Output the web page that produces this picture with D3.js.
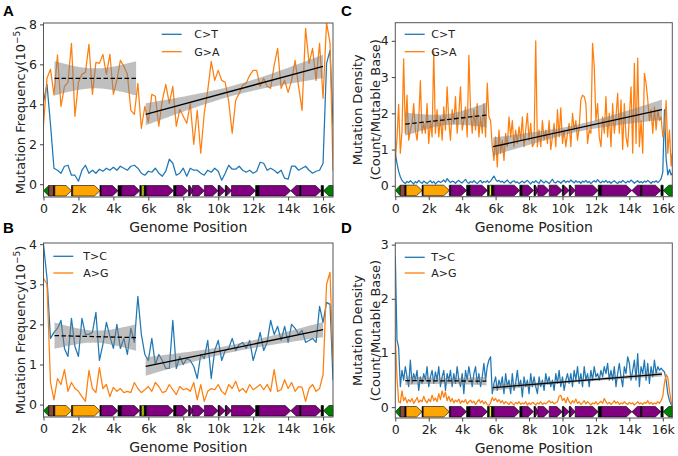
<!DOCTYPE html>
<html><head><meta charset="utf-8">
<script src="https://cdn.jsdelivr.net/npm/d3@7"></script>
<style>body{margin:0;background:#fff}svg{display:block}</style>
</head><body>
<svg id="chart" width="678" height="456"></svg>
<script>
const GENOME_LEN = 16569;
const xTickValues = [0,2000,4000,6000,8000,10000,12000,14000,16000];
const xTickLabels = ["0","2k","4k","6k","8k","10k","12k","14k","16k"];
const yTicksA = [0,2,4,6,8];
const yTicksB = [0,1,2,3,4];
const yTicksC = [0,1,2,3,4];
const yTicksD = [0,1,2,3];

// bin positions (bp)
const xsAB = d3.range(0, GENOME_LEN, 200).concat([GENOME_LEN]);
const xsCD = d3.range(0, GENOME_LEN, 100).concat([GENOME_LEN]);

const labelsAC = ["C>T","G>A"];
const labelsBD = ["T>C","A>G"];

const A_CT = [4.1,5.0,3.0,0.8,0.7,0.55,0.9,0.95,0.45,0.45,
0.15,0.7,0.95,0.55,0.7,0.55,0.75,0.65,0.8,0.7,
0.85,0.7,0.9,0.8,0.7,0.9,0.95,0.8,0.55,0.45,
0.65,0.6,0.8,0.55,0.4,0.65,1.25,1.05,0.45,0.55,
0.8,0.4,0.8,0.7,0.7,0.55,0.45,0.7,0.6,0.8,
0.65,0.2,0.55,0.95,0.75,0.75,0.9,0.7,0.6,0.7,
0.55,0.65,1.1,1.05,0.7,0.8,0.7,0.55,0.7,0.3,
0.25,0.9,0.9,0.7,0.8,0.9,0.7,0.55,0.65,0.7,
1.05,6.05,6.7,3.0];
const A_GA = [2.97,5.3,5.75,4.47,6.47,3.9,4.9,5.1,7.05,3.4,
5.1,5.5,5.6,7.0,4.5,6.1,6.05,6.5,5.5,6.5,
4.5,5.2,6.2,5.9,5.5,3.7,3.5,5.05,2.8,3.9,
3.1,4.5,4.4,2.9,4.2,5.0,4.05,4.9,2.9,3.75,
3.4,3.05,4.05,2.0,3.7,1.55,3.55,4.7,6.15,5.2,
5.7,5.2,5.1,4.15,2.55,4.2,4.55,4.95,5.05,5.45,
5.7,5.7,4.9,5.3,4.9,4.8,5.95,6.8,4.8,5.2,
4.6,5.2,6.2,4.9,3.7,7.8,6.05,6.8,5.2,7.05,
4.3,8.1,7.05,0.7];
const B_TC = [4.0,3.15,1.65,1.8,1.9,2.1,1.4,1.2,2.15,1.45,
1.2,2.15,1.75,1.75,1.8,2.3,1.1,1.5,2.05,1.7,
1.4,2.0,1.4,1.65,1.25,1.9,1.55,2.7,1.75,1.25,
1.1,1.65,1.0,1.25,1.1,0.9,0.9,2.1,0.9,1.2,
1.0,1.15,1.1,0.95,0.65,1.25,1.15,1.6,0.65,1.35,
1.6,1.1,1.35,1.4,1.65,1.35,1.5,1.55,1.4,1.6,
1.1,1.4,1.8,1.35,1.55,2.1,1.75,1.95,1.6,1.95,
1.55,2.0,1.9,1.75,1.85,1.55,1.6,1.65,1.55,2.45,
2.05,2.55,2.5,0.6];
const B_AG = [3.15,3.0,0.55,0.12,0.65,0.5,0.87,0.33,0.55,0.4,
0.33,0.2,0.08,0.85,0.4,0.3,0.92,0.4,0.5,0.2,
0.43,0.33,0.4,0.3,0.33,0.3,0.55,0.4,0.3,0.37,
0.45,0.33,0.55,0.45,0.3,0.33,0.5,0.37,0.25,0.45,
0.37,0.4,0.33,0.55,0.12,0.5,0.08,0.33,0.4,0.37,
0.5,0.33,0.25,0.5,0.4,0.58,0.33,0.4,0.3,0.5,
0.37,0.43,0.5,0.37,0.5,0.33,0.87,0.33,0.37,0.62,
0.4,0.55,0.33,0.45,0.43,0.08,0.4,0.5,0.33,0.4,
0.75,3.0,3.3,1.0];
const C_CT = [0.9,0.62,0.4,0.25,0.15,0.1,0.06,0.12,0.09,0.14,
0.1,0.05,0.12,0.08,0.15,0.1,0.07,0.13,0.1,0.06,
0.11,0.14,0.08,0.12,0.05,0.1,0.13,0.09,0.12,0.16,
0.1,0.2,0.14,0.09,0.13,0.11,0.07,0.12,0.15,0.1,
0.08,0.13,0.18,0.1,0.07,0.12,0.09,0.14,0.1,0.06,
0.11,0.15,0.08,0.12,0.1,0.14,0.09,0.13,0.2,0.27,
0.18,0.12,0.15,0.1,0.13,0.08,0.12,0.16,0.1,0.07,
0.12,0.14,0.09,0.11,0.06,0.1,0.13,0.08,0.12,0.15,
0.1,0.05,0.12,0.09,0.14,0.1,0.07,0.16,0.12,0.08,
0.13,0.1,0.06,0.12,0.18,0.1,0.08,0.13,0.11,0.07,
0.12,0.15,0.09,0.13,0.1,0.16,0.12,0.08,0.14,0.1,
0.12,0.07,0.13,0.1,0.15,0.09,0.12,0.06,0.11,0.14,
0.1,0.17,0.12,0.08,0.13,0.1,0.15,0.09,0.12,0.07,
0.11,0.14,0.1,0.06,0.12,0.09,0.15,0.11,0.08,0.13,
0.1,0.16,0.12,0.07,0.11,0.14,0.09,0.12,0.08,0.13,
0.1,0.15,0.11,0.07,0.12,0.1,0.14,0.09,0.13,0.2,
0.38,2.1,0.75,0.3,0.45,0.3,0.35];
const C_GA = [0.7,1.3,2.25,0.9,1.5,3.5,1.45,2.5,1.26,1.54,
1.72,2.27,1.54,1.26,1.8,2.9,1.45,1.72,1.45,2.27,
1.17,1.8,1.35,3.7,1.45,2.1,1.35,1.9,1.26,2.18,
1.54,2.73,1.8,1.26,2.1,1.72,2.46,1.45,2.0,2.73,
1.54,1.8,2.18,1.35,3.6,2.1,1.45,2.1,1.54,2.27,
1.35,1.9,1.45,2.27,1.35,2.83,1.9,1.8,1.08,0.7,
1.35,0.52,1.54,0.9,1.26,0.7,1.45,1.08,1.9,1.35,
1.8,1.08,1.54,1.17,1.63,1.26,1.9,1.08,1.54,2.0,
1.26,1.72,1.08,1.17,4.0,1.08,1.54,1.08,1.8,1.26,
1.54,1.17,1.8,1.0,1.35,1.72,1.08,2.1,1.35,2.15,
1.17,1.54,1.08,1.45,1.72,1.08,2.0,1.54,1.8,1.26,
1.63,2.37,2.5,2.46,2.27,1.17,1.54,1.45,3.93,3.29,
1.8,2.27,1.35,1.08,1.9,1.45,2.46,1.35,2.0,1.08,
2.27,1.45,1.9,2.55,1.45,2.37,1.0,2.27,1.35,1.08,
1.9,2.73,0.9,3.38,1.17,3.52,1.08,1.8,0.9,3.1,
2.83,2.37,1.8,2.1,1.45,2.18,1.54,2.1,1.8,1.9,
1.35,1.54,2.35,0.9,1.54,0.55,0.9];
const D_TC = [2.8,1.24,1.1,0.38,0.68,0.5,0.75,0.56,0.38,0.87,
0.44,0.62,0.5,0.68,0.31,0.56,0.44,0.62,0.5,0.75,
0.38,0.56,0.68,0.44,0.65,0.5,0.75,0.38,0.56,0.68,
0.31,0.62,0.5,0.68,0.38,0.62,0.44,0.75,0.5,0.38,
0.62,0.25,0.68,0.5,0.75,0.56,0.38,0.62,0.75,0.44,
0.62,0.38,0.56,0.81,0.5,0.75,0.87,0.93,0.25,0.44,
0.56,0.31,0.5,0.38,0.56,0.25,0.62,0.38,0.5,0.25,
0.62,0.31,0.44,0.68,0.38,0.5,0.19,0.56,0.38,0.5,
0.25,0.62,0.38,0.56,0.38,0.25,0.56,0.38,0.5,0.31,
0.62,0.44,0.56,0.38,0.5,0.31,0.62,0.44,0.68,0.38,
0.56,0.31,0.5,0.62,0.44,0.62,0.38,0.68,0.5,0.75,
0.44,0.62,0.38,0.75,0.5,0.62,0.38,0.68,0.5,0.75,
0.56,0.62,0.5,0.68,0.56,0.75,0.62,0.81,0.5,0.68,
0.5,0.75,0.38,0.62,0.81,0.56,0.38,0.75,0.62,0.93,
0.81,0.5,0.68,0.87,0.5,0.99,0.38,0.75,0.62,0.87,
0.5,0.81,0.44,0.75,0.56,0.87,0.62,0.75,0.68,0.72,
0.68,0.65,0.5,0.25,0.12,0.05,0.02];
const D_AG = [1.3,0.55,0.1,0.08,0.3,0.12,0.18,0.08,0.14,0.1,
0.16,0.07,0.12,0.18,0.09,0.13,0.1,0.2,0.12,0.08,
0.15,0.1,0.22,0.12,0.17,0.1,0.25,0.14,0.3,0.18,
0.28,0.12,0.2,0.1,0.16,0.08,0.13,0.1,0.15,0.07,
0.12,0.09,0.14,0.06,0.1,0.13,0.08,0.11,0.05,0.1,
0.14,0.08,0.12,0.06,0.1,0.05,0.03,0.08,0.18,0.12,
0.16,0.1,0.14,0.08,0.12,0.06,0.1,0.08,0.05,0.1,
0.07,0.04,0.09,0.06,0.1,0.05,0.08,0.06,0.1,0.04,
0.08,0.05,0.09,0.07,0.04,0.08,0.06,0.1,0.05,0.08,
0.06,0.09,0.12,0.08,0.1,0.06,0.08,0.1,0.2,0.22,
0.12,0.16,0.08,0.18,0.1,0.06,0.12,0.08,0.15,0.07,
0.1,0.05,0.08,0.12,0.06,0.1,0.07,0.04,0.08,0.06,
0.1,0.05,0.08,0.11,0.07,0.16,0.1,0.06,0.09,0.05,
0.08,0.12,0.07,0.1,0.05,0.08,0.06,0.1,0.07,0.05,
0.09,0.06,0.08,0.04,0.07,0.1,0.06,0.08,0.05,0.09,
0.07,0.12,0.06,0.09,0.05,0.08,0.06,0.1,0.07,0.12,
0.2,0.45,0.6,0.55,0.3,0.1,0.05];

// regression fits: start/end bp, start/end value, CI half-width at ends and middle
const fitsA = [{x0:630,x1:5300,y0:5.3,y1:5.3,e0:0.86,e1:0.86,mid:0.5,dashed:true},
               {x0:5850,x1:16000,y0:3.5,y1:5.9,e0:0.55,e1:0.58,mid:0.25,dashed:false}];
const fitsB = [{x0:630,x1:5300,y0:1.72,y1:1.67,e0:0.33,e1:0.33,mid:0.15,dashed:true},
               {x0:5850,x1:16000,y0:0.95,y1:1.87,e0:0.23,e1:0.19,mid:0.09,dashed:false}];
const fitsC = [{x0:600,x1:5450,y0:1.7,y1:1.95,e0:0.32,e1:0.34,mid:0.15,dashed:true},
               {x0:5850,x1:15950,y0:1.08,y1:2.1,e0:0.25,e1:0.28,mid:0.1,dashed:false}];
const fitsD = [{x0:600,x1:5450,y0:0.49,y1:0.48,e0:0.08,e1:0.08,mid:0.055,dashed:true},
               {x0:5850,x1:15950,y0:0.36,y1:0.61,e0:0.055,e1:0.045,mid:0.025,dashed:false}];

// mitochondrial genome features
const geneStart  = [0,300,577,648,1602,1671,3230,3307,4263,4470,5512,5640,5761,5904,7446,7586,8295,8366,8527,9207,9991,10059,10405,10470,10760,12138,12337,14149,14674,14747,15888,16024];
const geneEnd    = [300,576,647,1601,1670,3229,3304,4262,4469,5511,5600,5760,5891,7445,7585,8269,8364,8572,9207,9990,10058,10404,10469,10766,12137,12336,14148,14673,14742,15887,16023,16569];
const geneStrand = [-1,0,0,1,0,1,0,1,0,1,0,0,0,1,0,1,0,1,1,1,0,1,0,1,1,0,1,-1,0,1,0,-1];
const geneType   = ["G","R","K","O","K","O","K","P","K","P","K","Y","K","P","K","P","K","P","P","P","K","P","K","P","P","K","P","P","K","P","K","G"];
const geneColors = {G:"#008000",R:"#8b4a3c",K:"#000000",O:"#ffa500",P:"#800080",Y:"#ffff00"};

const COLORS = ["#1f77b4","#ff7f0e"];
const FONT = '"DejaVu Sans", sans-serif';
const svg = d3.select("#chart");

const panels = [
 {id:"A", left:43.5, right:333, top:23, bottom:197, yDomain:[-0.64,8.07], yTicks:yTicksA, xs:xsAB, series:[A_CT,A_GA], labels:labelsAC, fits:fitsA,
  leg:{lx:161.7, tx:194.3, y1:34.3, y2:51.7}, ylab:"freq", ylx:25, xlabY:231.5, tag:{x:3,y:16}},
 {id:"B", left:43.5, right:333, top:243, bottom:417, yDomain:[-0.31,4.03], yTicks:yTicksB, xs:xsAB, series:[B_TC,B_AG], labels:labelsBD, fits:fitsB,
  leg:{lx:53.3, tx:83.3, y1:256.3, y2:273}, ylab:"freq", ylx:25, xlabY:452, tag:{x:3,y:233}},
 {id:"C", left:395.3, right:672.3, top:22.7, bottom:196.7, yDomain:[-0.3,4.5], yTicks:yTicksC, xs:xsCD, series:[C_CT,C_GA], labels:labelsAC, fits:fitsC,
  leg:{lx:404.7, tx:431.3, y1:34.3, y2:51.7}, ylab:"dens", ylx:362, xlabY:231.5, tag:{x:341,y:16}},
 {id:"D", left:395.3, right:672.3, top:243, bottom:418, yDomain:[-0.2,3.03], yTicks:yTicksD, xs:xsCD, series:[D_TC,D_AG], labels:labelsBD, fits:fitsD,
  leg:{lx:404.7, tx:431.3, y1:257.3, y2:273}, ylab:"dens", ylx:362, xlabY:453, tag:{x:341,y:233}}
];

function drawPanel(p){
  const x = d3.scaleLinear().domain([0,GENOME_LEN]).range([p.left,p.right]);
  const y = d3.scaleLinear().domain(p.yDomain).range([p.bottom,p.top]);
  const g = svg.append("g");
  const clipId = "clip"+p.id;
  svg.append("clipPath").attr("id",clipId).append("rect")
    .attr("x",p.left).attr("y",p.top).attr("width",p.right-p.left).attr("height",p.bottom-p.top);
  const plot = g.append("g").attr("clip-path",`url(#${clipId})`);
  const line = d3.line().x((d,i)=>x(p.xs[i])).y(d=>y(d));
  p.series.forEach((s,k)=>{
    plot.append("path").attr("d",line(s)).attr("fill","none").attr("stroke",COLORS[k])
      .attr("stroke-width",1.25).attr("stroke-linejoin","round");
  });
  p.fits.forEach(f=>{
    const n=40, pts=d3.range(n+1).map(j=>f.x0+(f.x1-f.x0)*j/n);
    const m=(f.x0+f.x1)/2, half=(f.x1-f.x0)/2;
    const yc=xx=>f.y0+(f.y1-f.y0)*(xx-f.x0)/(f.x1-f.x0);
    const hw=xx=>{const u=(xx-m)/half, e=u<0?f.e0:f.e1; return Math.sqrt(f.mid*f.mid+(e*e-f.mid*f.mid)*u*u);};
    plot.append("path").attr("d",d3.area().x(xx=>x(xx)).y0(xx=>y(yc(xx)-hw(xx))).y1(xx=>y(yc(xx)+hw(xx)))(pts))
      .attr("fill","#808080").attr("fill-opacity",0.5);
    plot.append("line").attr("x1",x(f.x0)).attr("y1",y(f.y0)).attr("x2",x(f.x1)).attr("y2",y(f.y1))
      .attr("stroke","#000").attr("stroke-width",1.3).attr("stroke-dasharray",f.dashed?"4.5,2.5":null);
  });
  // gene track
  const tTop = p.bottom-11.5, tBot = p.bottom-1, tMid=(tTop+tBot)/2, head=5.5;
  const track = g.append("g");
  geneStart.forEach((s,i)=>{
    const x0=x(s), x1=x(geneEnd[i]), w=x1-x0, st=geneStrand[i];
    const h=Math.min(head,w);
    let pts;
    if(st===1) pts=[[x0,tTop],[x1-h,tTop],[x1,tMid],[x1-h,tBot],[x0,tBot]];
    else if(st===-1) pts=[[x1,tTop],[x0+h,tTop],[x0,tMid],[x0+h,tBot],[x1,tBot]];
    else pts=[[x0,tTop],[Math.max(x1,x0+1),tTop],[Math.max(x1,x0+1),tBot],[x0,tBot]];
    track.append("polygon").attr("points",pts.map(q=>q.join(",")).join(" "))
      .attr("fill",geneColors[geneType[i]]).attr("stroke","#000").attr("stroke-width",0.6);
  });
  // spines
  g.append("rect").attr("x",p.left).attr("y",p.top).attr("width",p.right-p.left).attr("height",p.bottom-p.top)
    .attr("fill","none").attr("stroke","#555").attr("stroke-width",1);
  // axes
  const style = a=>{a.select(".domain").remove();
    a.selectAll("text").attr("font-size",12.5).attr("font-family",FONT).attr("fill","#222");
    a.selectAll("line").attr("stroke","#444");};
  g.append("g").attr("transform",`translate(0,${p.bottom})`)
    .call(d3.axisBottom(x).tickValues(xTickValues).tickFormat((d,i)=>xTickLabels[i]).tickSize(3.5).tickPadding(3.5)).call(style);
  g.append("g").attr("transform",`translate(${p.left},0)`)
    .call(d3.axisLeft(y).tickValues(p.yTicks).tickFormat(d3.format("d")).tickSize(3.5).tickPadding(3)).call(style);
  // x label
  g.append("text").attr("x",(p.left+p.right)/2).attr("y",p.xlabY).attr("text-anchor","middle")
    .attr("font-family",FONT).attr("font-size",14).attr("fill","#222").text("Genome Position");
  // y label
  const cy=(p.top+p.bottom)/2;
  if(p.ylab==="freq"){
    const t=g.append("text").attr("transform",`translate(${p.ylx},${cy}) rotate(-90)`).attr("text-anchor","middle")
      .attr("font-family",FONT).attr("font-size",13).attr("fill","#222");
    t.append("tspan").text("Mutation Frequency(10");
    t.append("tspan").attr("dy",-5).attr("font-size",9).text("\u22125");
    t.append("tspan").attr("dy",5).text(")");
  } else {
    const t=g.append("text").attr("transform",`translate(${p.ylx},${cy}) rotate(-90)`).attr("text-anchor","middle")
      .attr("font-family",FONT).attr("font-size",13).attr("fill","#222");
    t.append("tspan").attr("x",0).attr("y",0).text("Mutation Density");
    t.append("tspan").attr("x",0).attr("y",18).text("(Count/Mutable Base)");
  }
  // legend
  [p.leg.y1,p.leg.y2].forEach((ly,k)=>{
    g.append("line").attr("x1",p.leg.lx).attr("x2",p.leg.lx+20).attr("y1",ly).attr("y2",ly)
      .attr("stroke",COLORS[k]).attr("stroke-width",1.3);
    g.append("text").attr("x",p.leg.tx).attr("y",ly+3.9).attr("font-family",FONT).attr("font-size",11)
      .attr("fill","#222").text(p.labels[k]);
  });
  // tag
  g.append("text").attr("x",p.tag.x).attr("y",p.tag.y).attr("font-family",'"Liberation Sans", Arial, sans-serif')
    .attr("font-weight","bold").attr("font-size",15).attr("fill","#000").text(p.id);
}
panels.forEach(drawPanel);
</script>
</body></html>
